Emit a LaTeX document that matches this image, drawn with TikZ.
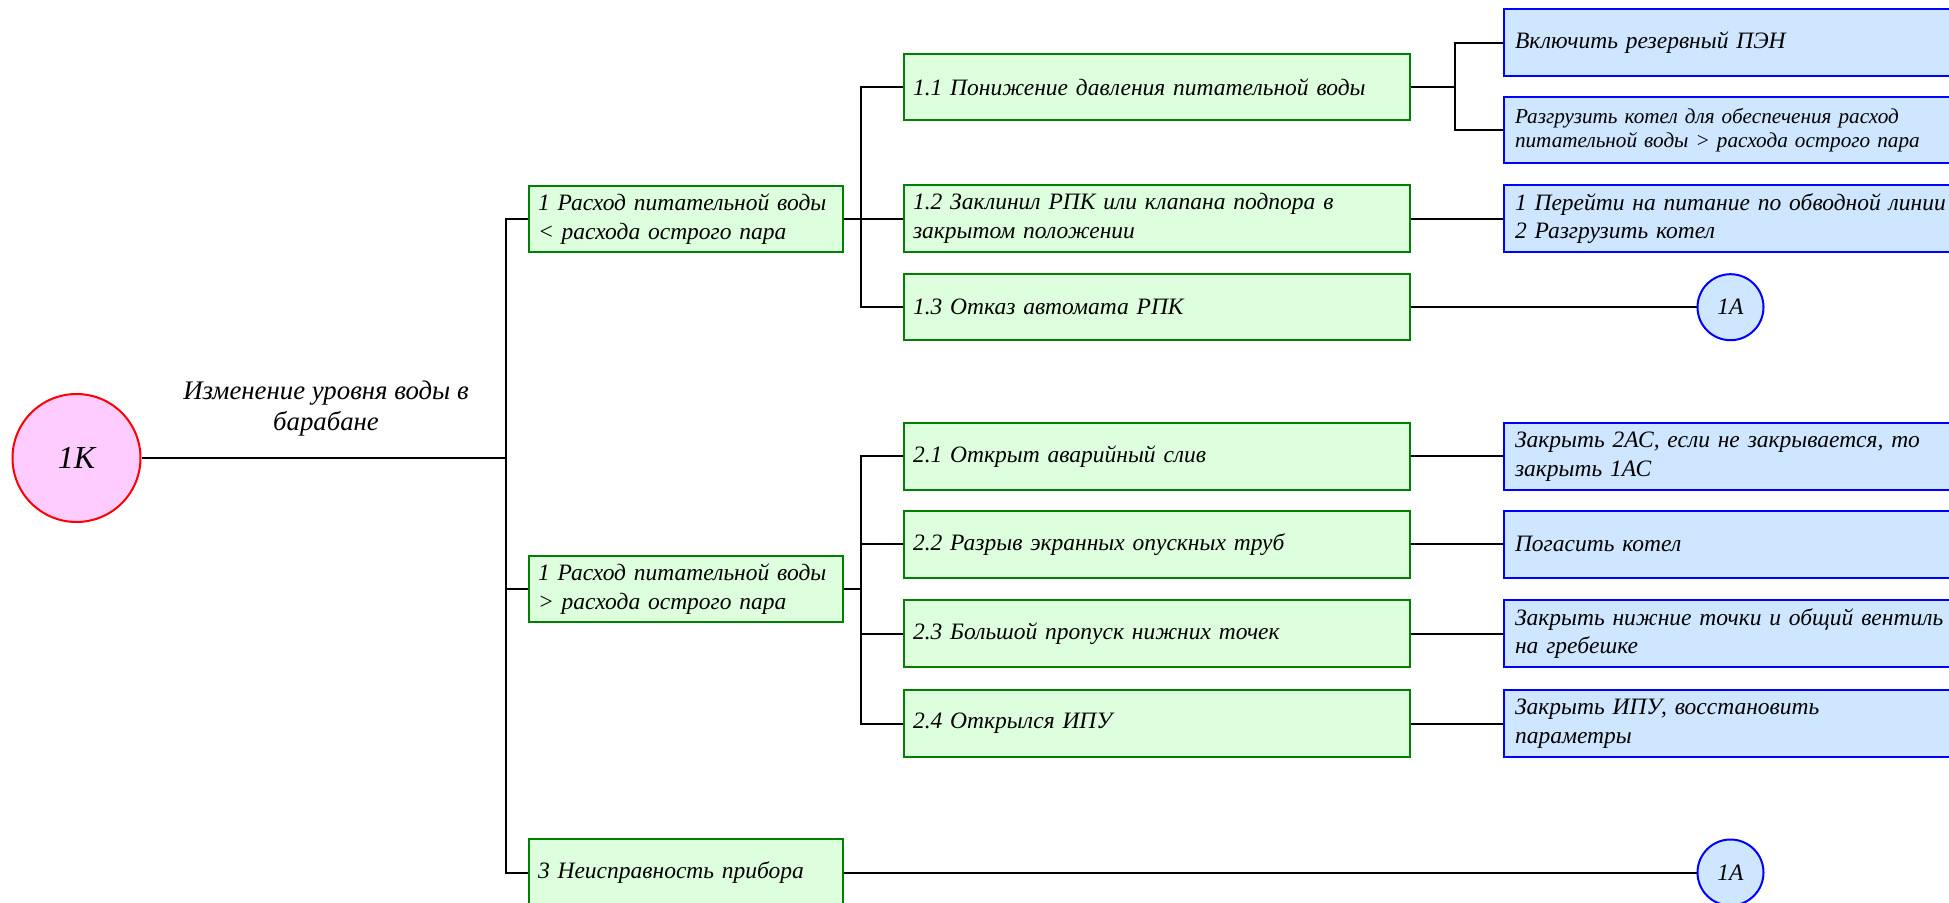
\documentclass[tikz,border=0pt]{standalone}
\usepackage{fontspec}
\setmainfont{Liberation Serif}
\definecolor{causeline}{RGB}{0,128,0}
\definecolor{causefill}{RGB}{221,255,221}
\definecolor{actfill}{RGB}{206,230,255}
\definecolor{rootfill}{RGB}{255,204,255}

\tikzset{
    every node/.style={font=\itshape\fontsize{11.75}{14.4}\selectfont},
    cause/.style={draw=causeline, fill=causefill, line width=1pt, anchor=west,
        minimum height=33.25pt, align=left, inner xsep=4.5pt},
    lvlone/.style={cause, text width=148pt},
    lvltwo/.style={cause, text width=244pt},
    action/.style={draw=blue, fill=actfill, line width=1pt, anchor=west,
        minimum height=33.25pt, text width=250pt, align=left, inner xsep=5.5pt},
    refcirc/.style={circle, draw=blue, fill=actfill, line width=1pt,
        minimum size=33pt, inner sep=0pt},
    link/.style={line width=1pt}
}

\begin{document}
\begin{tikzpicture}[x=0.5pt, y=-0.5pt]
\useasboundingbox (0,0) rectangle (1949,903);
\clip (0,0) rectangle (1949,903);

\node [circle, draw=red, fill=rootfill, line width=1pt,
    minimum size=64pt, inner sep=0pt,
    font=\itshape\fontsize{16}{19}\selectfont
    ] (root) at (76.5,458) {1К};
\node [align=center, font=\itshape\fontsize{13.4}{15.5}\selectfont]
    (topic) at (326,409) {Изменение уровня воды в\\барабане};

\coordinate (trunk) at (506,458);
\coordinate (fork1) at (861,219);
\coordinate (fork2) at (861,589);
\coordinate (fork11) at (1455,87);

\node [lvlone] (c1) at (528,219) {1 Расход питательной воды\\< расхода острого пара};
\node [lvlone] (c2) at (528,589) {1 Расход питательной воды\\> расхода острого пара};
\node [lvlone] (c3) at (528,872.5) {3 Неисправность прибора};

\node [lvltwo] (c11) at (903,87) {1.1 Понижение давления питательной воды};
\node [lvltwo] (c12) at (903,218.6) {1.2 Заклинил РПК или клапана подпора в\\закрытом положении};
\node [lvltwo] (c13) at (903,307.2) {1.3 Отказ автомата РПК};
\node [lvltwo] (c21) at (903,456.5) {2.1 Открыт аварийный слив};
\node [lvltwo] (c22) at (903,544.4) {2.2 Разрыв экранных опускных труб};
\node [lvltwo] (c23) at (903,633.5) {2.3 Большой пропуск нижних точек};
\node [lvltwo] (c24) at (903,723.5) {2.4 Открылся ИПУ};

\node [action] (a1) at (1503,42.6) {Включить резервный ПЭН};
\node [action, font=\itshape\fontsize{10.6}{12.4}\selectfont]
    (a2) at (1503,130.2) {Разгрузить котел для обеспечения расход\\питательной воды > расхода острого пара};
\node [action] (a3) at (1503,218.6) {1 Перейти на питание по обводной линии\\2 Разгрузить котел};
\node [action] (a4) at (1503,456.5) {Закрыть 2АС, если не закрывается, то\\закрыть 1АС};
\node [action] (a5) at (1503,544.4) {Погасить котел};
\node [action] (a6) at (1503,633.5) {Закрыть нижние точки и общий вентиль\\на гребешке};
\node [action] (a7) at (1503,723.5) {Закрыть ИПУ, восстановить\\параметры};

\node [refcirc] (r1) at (1730.5,307.2) {1А};
\node [refcirc] (r2) at (1730.5,872.5) {1А};

\draw[link] (root) -- (trunk);
\foreach \n in {c1,c2,c3}
    \draw[link] (trunk) |- (\n.west);
\draw[link] (c1.east) -- (fork1);
\draw[link] (c2.east) -- (fork2);
\foreach \n in {c11,c12,c13}
    \draw[link] (fork1) |- (\n.west);
\foreach \n in {c21,c22,c23,c24}
    \draw[link] (fork2) |- (\n.west);
\draw[link] (c11.east) -- (fork11);
\draw[link] (fork11) |- (a1.west);
\draw[link] (fork11) |- (a2.west);
\draw[link] (c12) -- (a3);
\draw[link] (c13) -- (r1);
\draw[link] (c21) -- (a4);
\draw[link] (c22) -- (a5);
\draw[link] (c23) -- (a6);
\draw[link] (c24) -- (a7);
\draw[link] (c3) -- (r2);
\end{tikzpicture}
\end{document}
